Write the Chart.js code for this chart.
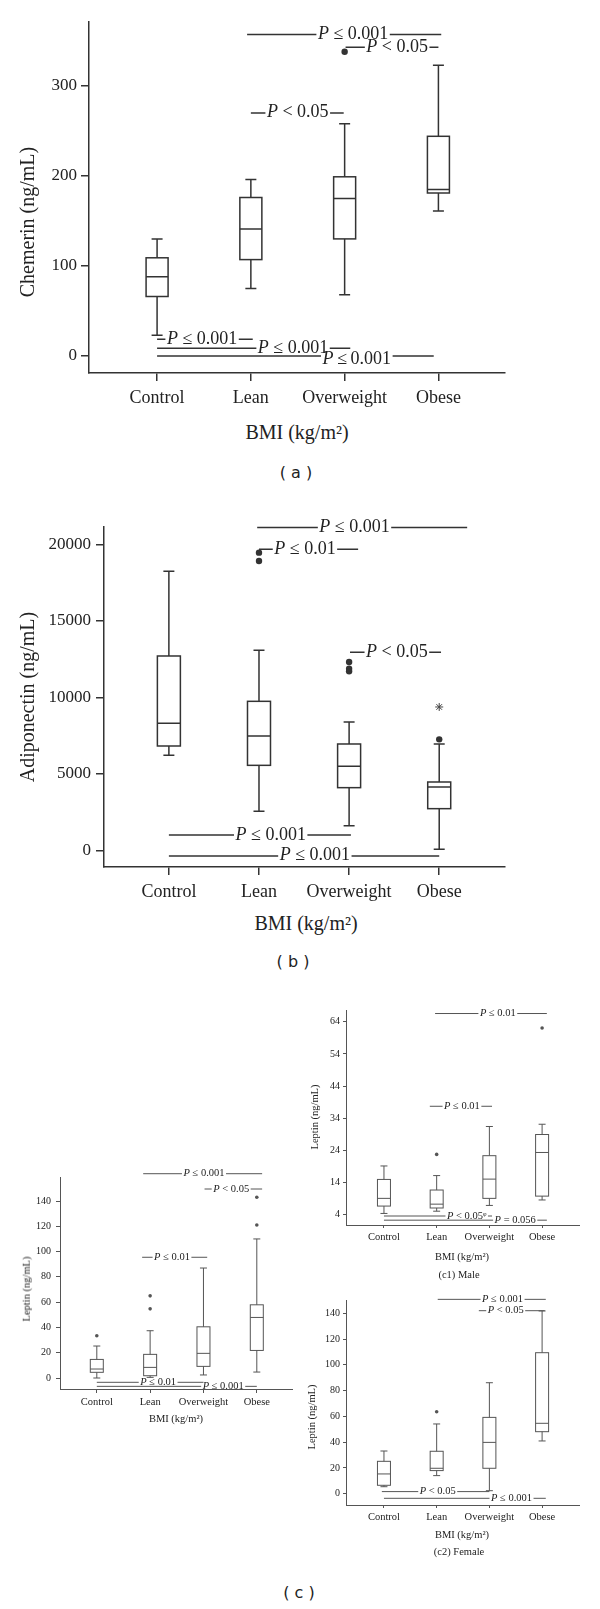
<!DOCTYPE html>
<html lang="en">
<head>
<meta charset="UTF-8">
<title>Chemerin, adiponectin and leptin by BMI</title>
<script src="https://cdn.jsdelivr.net/npm/chart.js"></script>
<style>
  html, body { margin: 0; padding: 0; background: #fff; }
  body { position: relative; width: 600px; height: 1609px; overflow: hidden; font-family: "Liberation Serif", serif; color: #222; }
  canvas { position: absolute; }
  .lbl { position: absolute; white-space: nowrap; line-height: 1; transform: translate(-50%, -50%); }
  .rot { transform: translate(-50%, -50%) rotate(-90deg); }
  .cap { font-family: "DejaVu Sans", sans-serif; font-size: 16px; }
  .big { font-size: 20px; }
  .small { font-size: 10.5px; }
</style>
</head>
<body>
  <canvas id="chartA"></canvas>
  <canvas id="chartB"></canvas>
  <canvas id="chartC"></canvas>
  <canvas id="chartC1"></canvas>
  <canvas id="chartC2"></canvas>

  <!-- (a) -->
  <div class="lbl rot big" style="left:27px; top:222px;">Chemerin (ng/mL)</div>
  <div class="lbl big" style="left:297px; top:432px;">BMI (kg/m²)</div>
  <div class="lbl cap" style="left:296px; top:473px;">( a )</div>
  <!-- (b) -->
  <div class="lbl rot big" style="left:27px; top:697px;">Adiponectin (ng/mL)</div>
  <div class="lbl big" style="left:306px; top:923px;">BMI (kg/m²)</div>
  <div class="lbl cap" style="left:293px; top:962px;">( b )</div>
  <!-- (c) -->
  <div class="lbl rot small" style="left:27px; top:1289px;">Leptin (ng/mL)</div>
  <div class="lbl small" style="left:176px; top:1419px;">BMI (kg/m²)</div>
  <div class="lbl rot small" style="left:315px; top:1117px;">Leptin (ng/mL)</div>
  <div class="lbl small" style="left:462px; top:1257px;">BMI (kg/m²)</div>
  <div class="lbl small" style="left:459px; top:1275px;">(c1) Male</div>
  <div class="lbl rot small" style="left:312px; top:1417px;">Leptin (ng/mL)</div>
  <div class="lbl small" style="left:462px; top:1535px;">BMI (kg/m²)</div>
  <div class="lbl small" style="left:459px; top:1552px;">(c2) Female</div>
  <div class="lbl cap" style="left:299px; top:1593px;">( c )</div>

<script>
const categories = ['Control', 'Lean', 'Overweight', 'Obese'];

// (a) chemerin
const chemerinTicks = [0, 100, 200, 300];
const chemerinLow = [23, 75, 68, 161];
const chemerinQ1 = [66, 107, 130, 181];
const chemerinMedian = [88, 141, 175, 185];
const chemerinQ3 = [109, 176, 199, 244];
const chemerinHigh = [130, 196, 258, 323];
const chemerinOutliers = [{x: 2, y: 338}];
// [from, to, line value, text, text centre, text baseline]
const chemerinSig = [
  [0.96, 3.03, 357, 'P ≤ 0.001', 2.09],
  [2.01, 3.0, 343, 'P < 0.05', 2.56],
  [1.0, 1.99, 270, 'P < 0.05', 1.50],
  [0, 1.02, 18.5, 'P ≤ 0.001', 0.48],
  [0, 2.06, 8.5, 'P ≤ 0.001', 1.45],
  [0, 2.95, 0, 'P\u2009≤\u20090.001', 2.13, -9]
];

// (b) adiponectin
const adipoTicks = [0, 5000, 10000, 15000, 20000];
const adipoLow = [6210, 2549, 1612, 65];
const adipoQ1 = [6820, 5556, 4097, 2724];
const adipoMedian = [8302, 7474, 5491, 4140];
const adipoQ3 = [12703, 9740, 6951, 4467];
const adipoHigh = [18238, 13074, 8389, 6951];
const adipoOutliers = [{x: 1, y: 19458}, {x: 1, y: 18914}, {x: 2, y: 12311}, {x: 2, y: 11876}, {x: 2, y: 11700}, {x: 3, y: 7256}];
const adipoExtremes = [{x: 3, y: 9370}];
const adipoSig = [
  [0.98, 3.31, 21100, 'P ≤ 0.001', 2.06],
  [1.0, 2.1, 19676, 'P ≤ 0.01', 1.51],
  [2.01, 3.02, 12943, 'P < 0.05', 2.53],
  [0, 2.02, 1002, 'P ≤ 0.001', 1.13],
  [0, 3.0, -370, 'P ≤ 0.001', 1.62]
];

// (c) leptin, all
const leptinTicks = [0, 20, 40, 60, 80, 100, 120, 140];
const leptinLow = [0, 0.5, 2.4, 4.7];
const leptinQ1 = [4.5, 1.8, 9.2, 21.8];
const leptinMedian = [7.1, 8.4, 19.5, 47.9];
const leptinQ3 = [14.7, 18.7, 40.5, 57.9];
const leptinHigh = [25.3, 37.4, 87, 110];
const leptinOutliers = [{x: 0, y: 33.4}, {x: 1, y: 65}, {x: 1, y: 54.7}, {x: 3, y: 143}, {x: 3, y: 121}];
const leptinSig = [
  [0.87, 3.10, 161.6, 'P ≤ 0.001', 2.01],
  [2.02, 3.10, 149.5, 'P < 0.05', 2.52],
  [0.85, 2.07, 95.5, 'P ≤ 0.01', 1.41],
  [0, 2.0, -3.4, 'P ≤ 0.01', 1.15],
  [0, 3.0, -6.6, 'P ≤ 0.001', 2.37]
];

// (c1) leptin, male
const maleTicks = [4, 14, 24, 34, 44, 54, 64];
const maleLow = [4.3, 5.0, 6.8, 8.5];
const maleQ1 = [6.6, 6.0, 9.0, 9.7];
const maleMedian = [9.0, 7.2, 15.0, 23.3];
const maleQ3 = [14.9, 11.6, 22.3, 28.9];
const maleHigh = [19.1, 16.1, 31.4, 32.1];
const maleOutliers = [{x: 1, y: 22.7}, {x: 3, y: 62.1}];
const maleSig = [
  [0.97, 3.09, 66.6, 'P ≤ 0.01', 2.16],
  [0.87, 2.05, 37.7, 'P ≤ 0.01', 1.48],
  [0, 2.05, 3.5, 'P < 0.05ᵠ', 1.57],
  [0, 3.09, 2.2, 'P = 0.056', 2.49]
];

// (c2) leptin, female
const femaleTicks = [0, 20, 40, 60, 80, 100, 120, 140];
const femaleLow = [5.4, 14.0, 2.3, 40.9];
const femaleQ1 = [6.5, 17.9, 19.7, 48.1];
const femaleMedian = [15.3, 19.7, 39.8, 54.6];
const femaleQ3 = [25.1, 32.9, 59.2, 109.4];
const femaleHigh = [33.1, 54.1, 86.1, 141.8];
const femaleOutliers = [{x: 1, y: 63.6}];
const femaleSig = [
  [1.02, 3.07, 150.8, 'P ≤ 0.001', 2.25],
  [1.8, 3.05, 142, 'P < 0.05', 2.31],
  [-0.04, 2.0, 1.6, 'P < 0.05', 1.02],
  [0, 3.07, -3.6, 'P ≤ 0.001', 2.42]
];

const SERIF = '"Liberation Serif", serif';
const PAD = 20;

function boxPlugin(stats, sig, st) {
  return {
    id: 'boxes',
    beforeDatasetsDraw(chart) {
      const {ctx, scales: {x, y}} = chart;
      ctx.save();
      ctx.strokeStyle = st.color;
      ctx.lineWidth = st.lw;
      stats.median.forEach((m, i) => {
        const px = x.getPixelForValue(i);
        const hw = st.boxW / 2, cw = st.capW / 2;
        const yl = y.getPixelForValue(stats.low[i]);
        const y1 = y.getPixelForValue(stats.q1[i]);
        const ym = y.getPixelForValue(m);
        const y3 = y.getPixelForValue(stats.q3[i]);
        const yh = y.getPixelForValue(stats.high[i]);
        ctx.beginPath();
        ctx.moveTo(px, yh); ctx.lineTo(px, y3);
        ctx.moveTo(px, y1); ctx.lineTo(px, yl);
        ctx.moveTo(px - cw, yh); ctx.lineTo(px + cw, yh);
        ctx.moveTo(px - cw, yl); ctx.lineTo(px + cw, yl);
        ctx.moveTo(px - hw, ym); ctx.lineTo(px + hw, ym);
        ctx.stroke();
        ctx.strokeRect(px - hw, y3, 2 * hw, y1 - y3);
      });
      ctx.restore();
    },
    afterDraw(chart) {
      const {ctx, scales: {x, y}} = chart;
      ctx.save();
      ctx.strokeStyle = st.color;
      ctx.lineWidth = st.lw;
      ctx.fillStyle = '#222';
      ctx.textBaseline = 'alphabetic';
      ctx.textAlign = 'left';
      sig.forEach(([a, b, v, label, tx, ty]) => {
        const x1 = x.getPixelForValue(a), x2 = x.getPixelForValue(b);
        const py = y.getPixelForValue(v);
        const pt = x.getPixelForValue(tx);
        const rest = label.slice(1);
        ctx.font = 'italic ' + st.ann + 'px ' + SERIF;
        const wP = ctx.measureText('P').width;
        ctx.font = st.ann + 'px ' + SERIF;
        const wR = ctx.measureText(rest).width;
        const tl = pt - (wP + wR) / 2, tr = pt + (wP + wR) / 2;
        const by = ty !== undefined ? y.getPixelForValue(ty) : py + st.ann * 0.25;
        const gap = 1.5;
        ctx.beginPath();
        if (tl - gap > x1) { ctx.moveTo(x1, py); ctx.lineTo(Math.min(tl - gap, x2), py); }
        if (tr + gap < x2) { ctx.moveTo(Math.max(tr + gap, x1), py); ctx.lineTo(x2, py); }
        ctx.stroke();
        ctx.font = 'italic ' + st.ann + 'px ' + SERIF;
        ctx.fillText('P', tl, by);
        ctx.font = st.ann + 'px ' + SERIF;
        ctx.fillText(rest, tl + wP, by);
      });
      ctx.restore();
    }
  };
}

function boxChart(id, p) {
  const left = p.area.l - p.yAxisW;
  const top = p.area.t - PAD;
  const width = p.area.r + PAD - left;
  const height = p.area.b + p.xAxisH - top;
  const canvas = document.getElementById(id);
  canvas.width = width;
  canvas.height = height;
  canvas.style.left = left + 'px';
  canvas.style.top = top + 'px';
  canvas.style.width = width + 'px';
  canvas.style.height = height + 'px';

  const st = p.style;
  const axisBits = {
    grid: { drawOnChartArea: false, drawTicks: true, tickLength: st.tickLen, color: st.color, lineWidth: st.lw },
    border: { display: true, color: st.color, width: st.lw }
  };
  const datasets = [{
    data: p.outliers,
    pointRadius: st.dot,
    pointBackgroundColor: st.color,
    pointBorderWidth: 0
  }];
  if (p.extremes) {
    datasets.push({
      data: p.extremes,
      pointStyle: 'star',
      pointRadius: 4,
      pointBorderColor: '#444',
      pointBorderWidth: 1
    });
  }

  return new Chart(canvas, {
    type: 'scatter',
    data: { datasets },
    options: {
      responsive: false,
      animation: false,
      devicePixelRatio: 1,
      layout: { padding: { top: PAD, right: PAD, left: 0, bottom: 0 } },
      plugins: { legend: { display: false }, tooltip: { enabled: false } },
      scales: {
        x: {
          type: 'linear',
          min: p.xMin, max: p.xMax,
          afterBuildTicks: s => { s.ticks = categories.map((c, i) => ({ value: i })); },
          afterFit: s => { s.height = p.xAxisH; },
          ticks: {
            callback: v => categories[v],
            font: { family: SERIF, size: st.cat },
            color: '#222',
            padding: st.xPad,
            maxRotation: 0,
            autoSkip: false
          },
          ...axisBits
        },
        y: {
          type: 'linear',
          min: p.yMin, max: p.yMax,
          afterBuildTicks: s => { s.ticks = p.yTicks.map(v => ({ value: v })); },
          afterFit: s => { s.width = p.yAxisW; },
          ticks: {
            callback: v => String(v),
            font: { family: SERIF, size: st.tick },
            color: '#222',
            padding: st.yPad,
            autoSkip: false
          },
          ...axisBits
        }
      }
    },
    plugins: [boxPlugin(p.stats, p.sig, st)]
  });
}

const bigStyle = { tick: 17, cat: 18, ann: 18, lw: 1.5, color: '#333', boxW: 22, capW: 11, tickLen: 8, yPad: 4, xPad: 6, dot: 3.2 };
const smallStyle = { tick: 10, cat: 10.5, ann: 10.5, lw: 1, color: '#555', boxW: 13, capW: 7, tickLen: 4, yPad: 4, xPad: 3, dot: 1.8 };

boxChart('chartA', {
  area: { l: 89, t: 22, r: 505, b: 373 }, yAxisW: 70, xAxisH: 40,
  xMin: -0.726, xMax: 3.71, yMin: -19, yMax: 371, yTicks: chemerinTicks,
  stats: { low: chemerinLow, q1: chemerinQ1, median: chemerinMedian, q3: chemerinQ3, high: chemerinHigh },
  outliers: chemerinOutliers, sig: chemerinSig, style: bigStyle
});

boxChart('chartB', {
  area: { l: 104, t: 527, r: 505, b: 867 }, yAxisW: 80, xAxisH: 40,
  xMin: -0.72, xMax: 3.73, yMin: -1089, yMax: 21134, yTicks: adipoTicks,
  stats: { low: adipoLow, q1: adipoQ1, median: adipoMedian, q3: adipoQ3, high: adipoHigh },
  outliers: adipoOutliers, extremes: adipoExtremes, sig: adipoSig,
  style: Object.assign({}, bigStyle, { boxW: 23, yPad: 5 })
});

boxChart('chartC', {
  area: { l: 60, t: 1177, r: 292, b: 1389 }, yAxisW: 45, xAxisH: 25,
  xMin: -0.69, xMax: 3.66, yMin: -8.7, yMax: 159, yTicks: leptinTicks,
  stats: { low: leptinLow, q1: leptinQ1, median: leptinMedian, q3: leptinQ3, high: leptinHigh },
  outliers: leptinOutliers, sig: leptinSig, style: Object.assign({}, smallStyle, { yPad: 5 })
});

boxChart('chartC1', {
  area: { l: 346, t: 1010, r: 579, b: 1225 }, yAxisW: 40, xAxisH: 25,
  xMin: -0.72, xMax: 3.70, yMin: 0.7, yMax: 67.7, yTicks: maleTicks,
  stats: { low: maleLow, q1: maleQ1, median: maleMedian, q3: maleQ3, high: maleHigh },
  outliers: maleOutliers, sig: maleSig, style: Object.assign({}, smallStyle, { tickLen: 3, yPad: 3 })
});

boxChart('chartC2', {
  area: { l: 346, t: 1300, r: 579, b: 1505 }, yAxisW: 40, xAxisH: 25,
  xMin: -0.72, xMax: 3.70, yMin: -8.8, yMax: 150.3, yTicks: femaleTicks,
  stats: { low: femaleLow, q1: femaleQ1, median: femaleMedian, q3: femaleQ3, high: femaleHigh },
  outliers: femaleOutliers, sig: femaleSig, style: Object.assign({}, smallStyle, { tickLen: 3, yPad: 3 })
});
</script>
</body>
</html>
